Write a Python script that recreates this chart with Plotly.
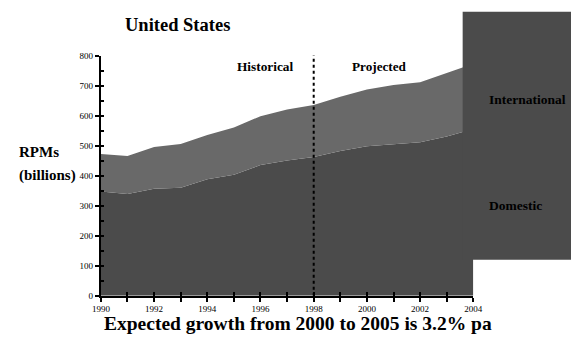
import plotly.graph_objects as go

# Revenue passenger miles, billions
years = [1990, 1991, 1992, 1993, 1994, 1995, 1996, 1997, 1998, 1999, 2000, 2001, 2002, 2003, 2004]
domestic = [347, 339, 356, 360, 388, 403, 435, 450, 462, 482, 498, 505, 511, 530, 555]
international = [125, 126, 139, 145, 147, 157, 163, 170, 173, 181, 189, 197, 200, 211, 218]

x_tick_vals = [1990, 1992, 1994, 1996, 1998, 2000, 2002, 2004]
y_tick_vals = [0, 100, 200, 300, 400, 500, 600, 700, 800]

DARK = "#4b4b4b"
LIGHT = "#696969"
SERIF = "Liberation Serif"

fig = go.Figure()
fig.add_trace(go.Scatter(
    x=years, y=domestic, mode="lines", stackgroup="rpm",
    line=dict(width=0, color=DARK), fillcolor=DARK, name="Domestic",
))
fig.add_trace(go.Scatter(
    x=years, y=international, mode="lines", stackgroup="rpm",
    line=dict(width=0, color=LIGHT), fillcolor=LIGHT, name="International",
))

x_dom = [95 / 581, 480 / 581]
y_dom = [(360 - 299) / 360, (360 - 52) / 360]

fig.update_layout(
    width=581, height=360,
    margin=dict(l=0, r=0, t=0, b=0),
    paper_bgcolor="white", plot_bgcolor="white",
    showlegend=False,
    font=dict(family=SERIF, color="black"),
    xaxis=dict(
        domain=x_dom, range=[1990, 2004], showgrid=False, zeroline=False,
        showline=True, linecolor="black", linewidth=2,
        tickvals=x_tick_vals, ticks="outside", ticklen=4, tickwidth=1.5, tickcolor="black",
        tickfont=dict(size=9, family=SERIF),
        minor=dict(dtick=1, tick0=1990, ticks="outside", ticklen=4, tickwidth=1.5, tickcolor="black"),
    ),
    xaxis2=dict(
        domain=x_dom, range=[1990, 2004], overlaying="x", anchor="y",
        showgrid=False, zeroline=False, showticklabels=False,
        dtick=1, tick0=1990, ticks="inside", ticklen=4, tickwidth=1.5, tickcolor="black",
    ),
    yaxis=dict(
        domain=y_dom, range=[0, 800], showgrid=False, zeroline=False,
        showline=True, linecolor="black", linewidth=2,
        tickvals=y_tick_vals, ticks="outside", ticklen=4, tickwidth=1.5, tickcolor="black",
        tickfont=dict(size=9, family=SERIF),
    ),
    yaxis2=dict(
        domain=y_dom, range=[0, 800], overlaying="y", anchor="x",
        showgrid=False, zeroline=False, showticklabels=False,
        dtick=50, tick0=0, ticks="inside", ticklen=3, tickwidth=1.5, tickcolor="black",
    ),
)

# invisible trace so the overlay axes are drawn
fig.add_trace(go.Scatter(x=[1990], y=[0], xaxis="x2", yaxis="y2", mode="markers",
                         marker=dict(opacity=0), hoverinfo="skip", showlegend=False))

# historical / projected divider
fig.add_shape(type="line", xref="x", yref="y", x0=1998, x1=1998, y0=0, y1=805,
              line=dict(color="black", width=2, dash="dot"), layer="above")

# legend block on the right
fig.add_shape(type="rect", xref="paper", yref="paper",
              x0=469 / 581, x1=1.0, y0=(360 - 262) / 360, y1=(360 - 7) / 360,
              fillcolor=DARK, line=dict(width=0), layer="above")

def note(text, x, y, size, xanchor="center"):
    fig.add_annotation(text=text, x=x, y=y, xref="paper", yref="paper",
                       xanchor=xanchor, yanchor="middle", showarrow=False,
                       font=dict(family=SERIF, size=size, color="black"))

note("<b>United States</b>", 174 / 581, 1 - 21 / 360, 18.5)
note("<b>RPMs</b>", 8 / 581, 1 - 151 / 360, 15, "left")
note("<b>(billions)</b>", 8 / 581, 1 - 175 / 360, 15, "left")
note("<b>Historical</b>", 265 / 581, 1 - 63 / 360, 13.3)
note("<b>Projected</b>", 383 / 581, 1 - 63 / 360, 13.2)
note("<b>International</b>", 494 / 581, 1 - 97 / 360, 13.5, "left")
note("<b>Domestic</b>", 494 / 581, 1 - 206 / 360, 13.5, "left")
note("<b>Expected growth from 2000 to 2005 is 3.2% pa</b>", 299 / 581, 1 - 328 / 360, 19.5)

# page body without the default margin so the figure fills the window exactly
fig.write_html("out.html", post_script="document.body.style.margin='0';document.body.style.overflow='hidden';")
